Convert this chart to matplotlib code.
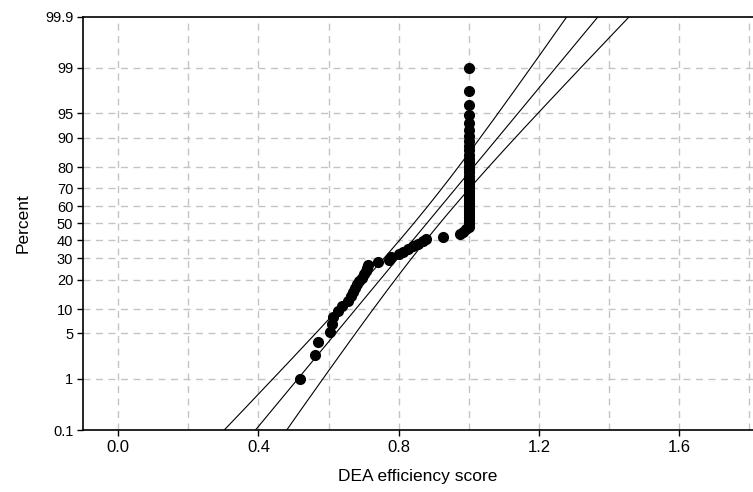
import matplotlib
matplotlib.use("Agg")
import matplotlib.pyplot as plt
import numpy as np
from statistics import NormalDist

# ---- data ----
scores_below_one = [0.519, 0.561, 0.571, 0.604, 0.609, 0.613, 0.628, 0.637,
                    0.656, 0.663, 0.669, 0.675, 0.680, 0.687, 0.694, 0.701,
                    0.707, 0.710, 0.713, 0.742, 0.773, 0.778, 0.801, 0.813,
                    0.827, 0.841, 0.856, 0.868, 0.879, 0.925, 0.974, 0.984,
                    0.993]
n_at_one = 37
fit_mean = 0.880
fit_sd = 0.158
pct_ticks = [0.1, 1, 5, 10, 20, 30, 40, 50, 60, 70, 80, 90, 95, 99, 99.9]
pct_labels = ["0.1", "1", "5", "10", "20", "30", "40", "50", "60", "70",
              "80", "90", "95", "99", "99.9"]
x_ticks = [0.0, 0.4, 0.8, 1.2, 1.6]
x_labels = ["0.0", "0.4", "0.8", "1.2", "1.6"]
x_grid = [0.0, 0.2, 0.4, 0.6, 0.8, 1.0, 1.2, 1.4, 1.6, 1.8]

plt.rcParams['font.family'] = ['Liberation Sans', 'DejaVu Sans']

nd = NormalDist()
scores = np.sort(np.array(scores_below_one + [1.0] * n_at_one))
n = len(scores)
ranks = np.arange(1, n + 1)
pp = (ranks - 0.3) / (n + 0.4)
zp = np.array([nd.inv_cdf(p) for p in pp])

fig = plt.figure(figsize=(7.53, 4.92), dpi=100)
ax = fig.add_axes([83 / 753, 1 - 430 / 492, 670 / 753, (430 - 16.7) / 492])

# grid
ytick_z = [nd.inv_cdf(p / 100) for p in pct_ticks]
for xv in x_grid:
    ax.axvline(xv, color='#c4c4c4', lw=1.0, ls=(0, (5, 4)), zorder=0)
for zv in ytick_z[1:-1]:
    ax.axhline(zv, color='#c4c4c4', lw=1.0, ls=(0, (5, 4)), zorder=0)

# fitted line and confidence bands
zl = np.linspace(-3.6, 3.6, 300)
xl = fit_mean + zl * fit_sd
se = fit_sd * np.sqrt((1 + zl ** 2 / 2) / n)
ax.plot(xl, zl, color='black', lw=0.8, zorder=2)
ax.plot(xl - 1.96 * se, zl, color='black', lw=0.8, zorder=2)
ax.plot(xl + 1.96 * se, zl, color='black', lw=0.8, zorder=2)

ax.plot(scores, zp, 'o', color='black', ms=7, mec='black', zorder=3)

ax.set_xlim(-0.1, 1.81)
ax.set_ylim(nd.inv_cdf(0.001), nd.inv_cdf(0.999))
ax.set_yticks(ytick_z)
ax.set_yticklabels(pct_labels, fontsize=10.5)
ax.set_xticks(x_ticks)
ax.set_xticklabels(x_labels, fontsize=12)
ax.tick_params(axis='both', direction='out', length=4, width=1, color='black')
ax.tick_params(axis='x', pad=3)
ax.tick_params(axis='y', pad=3)
ax.spines['right'].set_visible(False)
for s in ['left', 'bottom', 'top']:
    ax.spines[s].set_linewidth(1.2)

ax.set_xlabel("DEA efficiency score", fontsize=12.5, labelpad=10)
ax.set_ylabel("Percent", fontsize=12.5, labelpad=10)

fig.savefig("out.png", dpi=100)
